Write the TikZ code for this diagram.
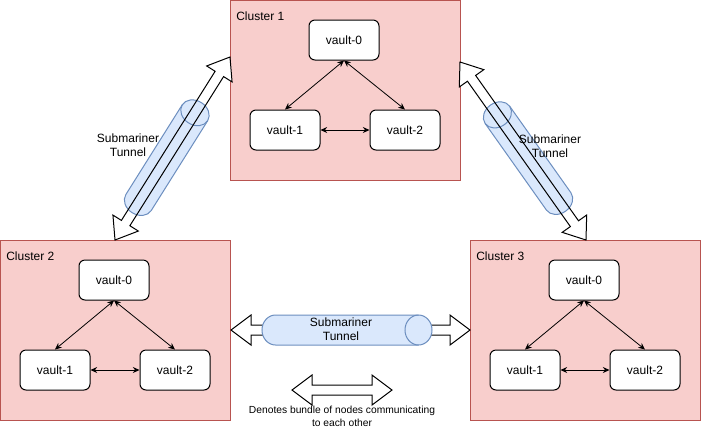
\documentclass[tikz,border=0pt]{standalone}
\usepackage{fontspec}
\setmainfont{Liberation Sans}
\usetikzlibrary{arrows.meta,calc}
\definecolor{clfill}{HTML}{F8CECC}
\definecolor{cldraw}{HTML}{B85450}
\definecolor{tbfill}{HTML}{DAE8FC}
\definecolor{tbdraw}{HTML}{6C8EBF}
\tikzset{
  cluster/.style={draw=cldraw, fill=clfill, minimum width=172.5pt, minimum height=135pt, anchor=north west, inner sep=0pt, line width=0.75pt},
  vault/.style={draw=black, fill=white, rounded corners=4.5pt, minimum width=52.5pt, minimum height=30pt, inner sep=0pt, font=\fontsize{9}{11}\selectfont, line width=0.75pt},
  cllabel/.style={anchor=west, inner sep=0pt, font=\fontsize{9}{11}\selectfont},
  tlabel/.style={align=center, inner sep=0pt, font=\fontsize{9}{10.5}\selectfont},
  link/.style={{Stealth[length=5pt,width=4.5pt]}-{Stealth[length=5pt,width=4.5pt]}, line width=0.6pt},
  flexfill/.style={fill=white, draw=none},
  flexline/.style={draw=black, line width=0.75pt, line join=miter},
  flexboth/.style={fill=white, draw=black, line width=0.75pt, line join=miter},
}
\newcommand\vcluster[4]{%
  \node[cluster] (#1) at (#2,#3) {};
  \node[cllabel] (#1lbl) at ($(#1.north west)+(6,16)$) {#4};
  \node[vault] (#1v0) at ($(#1.north west)+(114,40)$) {vault-0};
  \node[vault] (#1v1) at ($(#1.north west)+(55,130)$) {vault-1};
  \node[vault] (#1v2) at ($(#1.north west)+(175,130)$) {vault-2};
  \draw[link] (#1v0.south) -- (#1v1.north);
  \draw[link] (#1v0.south) -- (#1v2.north);
  \draw[link] (#1v1.east) -- (#1v2.west);
}
\newcommand\flexarrow[3]{%
  \path[#1] (#2) -- ($(#2)!15pt!(#3)!11.25pt!90:(#3)$) -- ($(#2)!15pt!(#3)!3.75pt!90:(#3)$)
    -- ($(#3)!15pt!(#2)!3.75pt!-90:(#2)$) -- ($(#3)!15pt!(#2)!11.25pt!-90:(#2)$) -- (#3)
    -- ($(#3)!15pt!(#2)!11.25pt!90:(#2)$) -- ($(#3)!15pt!(#2)!3.75pt!90:(#2)$)
    -- ($(#2)!15pt!(#3)!3.75pt!-90:(#3)$) -- ($(#2)!15pt!(#3)!11.25pt!-90:(#3)$) -- cycle;
}
\newcommand\tube[4]{%
  \begin{scope}[shift={(#1)}, rotate=#2, x=0.75pt, y=0.75pt]
    \fill[tbfill] ({-#3+#4},-15) rectangle ({#3-#4},15);
    \fill[tbfill] ({-#3+#4},0) ellipse [x radius=#4, y radius=15];
    \fill[tbfill] ({#3-#4},0) ellipse [x radius=#4, y radius=15];
    \draw[tbdraw, line width=0.75pt] ({#3-#4},15) -- ({-#3+#4},15) arc[start angle=90, end angle=270, x radius=#4, y radius=15] -- ({#3-#4},-15);
    \draw[tbdraw, line width=0.75pt] ({#3-#4},0) ellipse [x radius=#4, y radius=15];
  \end{scope}%
}
\begin{document}
\begin{tikzpicture}[x=0.75pt, y=-0.75pt]
\useasboundingbox (0,0) rectangle (701,430);
\fill[white] (0,0) rectangle (701,430);
\vcluster{ca}{230}{0}{Cluster 1}
\vcluster{cb}{0}{240}{Cluster 2}
\vcluster{cc}{470}{240}{Cluster 3}
% arrow endpoints
\coordinate (a1s) at (115,240);
\coordinate (a1e) at (230,57);
\coordinate (a2s) at (586,240);
\coordinate (a2e) at (460,62);
\coordinate (a3s) at (231,330);
\coordinate (a3e) at (470,330);
\coordinate (l1s) at (292,390);
\coordinate (l1e) at (392,390);
\coordinate (t1) at ($(a1s)!0.45!(a1e)$);
\coordinate (t2) at ($(a2s)!0.46!(a2e)$);
\coordinate (t3) at (347,330);
% left diagonal
\flexarrow{flexfill}{a1s}{a1e}
\tube{t1}{57.85}{65}{12}
\flexarrow{flexline}{a1s}{a1e}
% right diagonal
\flexarrow{flexfill}{a2s}{a2e}
\tube{t2}{125.3}{65}{12}
\flexarrow{flexline}{a2s}{a2e}
% horizontal
\flexarrow{flexboth}{a3s}{a3e}
\tube{t3}{0}{85}{13.5}
% labels
\node[tlabel] (lt1) at (128,145) {Submariner\\Tunnel};
\node[tlabel] (lt2) at (550,146) {Submariner\\Tunnel};
\node[tlabel] (lt3) at (341,329) {Submariner\\Tunnel};
% legend
\flexarrow{flexboth}{l1s}{l1e}
\node[align=center, inner sep=0pt, font=\fontsize{7.7}{9.75}\selectfont] (leg) at (342,416) {Denotes bundle of nodes communicating\\to each other};
\end{tikzpicture}
\end{document}
